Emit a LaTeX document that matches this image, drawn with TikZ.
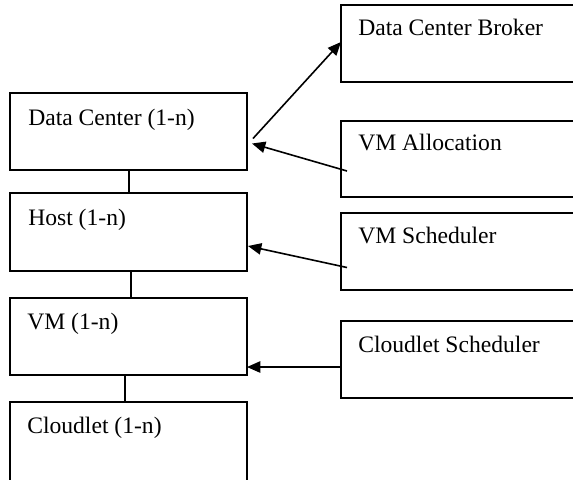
\documentclass[tikz,border=0pt]{standalone}
\usepackage{fontspec}
\setmainfont{Liberation Serif}
\usetikzlibrary{arrows.meta}
\begin{document}
\begin{tikzpicture}[x=0.75pt,y=-0.75pt,
  box/.style={draw,line width=0.9pt,inner sep=0pt,outer sep=0pt,minimum width=#1*0.75pt},
  lbl/.style={anchor=base west,inner sep=0pt,font=\fontsize{17.7pt}{20pt}\selectfont},
  link/.style={line width=0.9pt},
  arr/.style={line width=1.2pt,-{Triangle[length=10pt,width=8.5pt]}}]
\clip (0,0) rectangle (573,479);
% left column
\node[box=237,minimum height=77*0.75pt] (dc) at (128.5,131.5) {};
\node[box=237,minimum height=78*0.75pt] (host) at (128.5,232) {};
\node[box=237,minimum height=77*0.75pt] (vm) at (128.5,336.5) {};
\node[box=237,minimum height=80*0.75pt] (cl) at (128.5,442) {};
% right column
\node[box=239,minimum height=77*0.75pt] (dcb) at (460.5,43.5) {};
\node[box=239,minimum height=76*0.75pt] (vma) at (460.5,159) {};
\node[box=239,minimum height=77*0.75pt] (vms) at (460.5,251.5) {};
\node[box=239,minimum height=77*0.75pt] (cs) at (460.5,359.5) {};
% labels
\node[lbl] (tdc) at ([shift={(18,32)}]dc.north west) {Data Center (1-n)};
\node[lbl] (thost) at ([shift={(18,32)}]host.north west) {Host (1-n)};
\node[lbl] (tvm) at ([shift={(17,31)}]vm.north west) {VM (1-n)};
\node[lbl] (tcl) at ([shift={(17,31)}]cl.north west) {Cloudlet (1-n)};
\node[lbl] (tdcb) at ([shift={(17,30)}]dcb.north west) {Data Center Broker};
\node[lbl] (tvma) at ([shift={(17,29)}]vma.north west) {VM Allocation};
\node[lbl] (tvms) at ([shift={(17,30)}]vms.north west) {VM Scheduler};
\node[lbl] (tcs) at ([shift={(17,31)}]cs.north west) {Cloudlet Scheduler};
% vertical links
\draw[link] ([xshift=0.4pt]dc.south) -- ([xshift=0.4pt]host.north);
\draw[link] ([xshift=1.9pt]host.south) -- ([xshift=1.9pt]vm.north);
\draw[link] ([xshift=-2.6pt]vm.south) -- ([xshift=-2.6pt]cl.north);
% arrows
\coordinate (a1s) at ([shift={(6,7)}]dc.east);
\coordinate (a2s) at ([shift={(6,12)}]vma.west);
\coordinate (a2e) at ([shift={(5,12)}]dc.east);
\coordinate (a3s) at ([shift={(6,16)}]vms.west);
\coordinate (a3e) at ([shift={(1,14)}]host.east);
\coordinate (a4s) at ([shift={(0,7.5)}]cs.west);
\draw[arr] (a1s) -- ([shift={(0,-1.5)}]dcb.west);
\draw[arr] (a2s) -- (a2e);
\draw[arr] (a3s) -- (a3e);
\draw[arr] (a4s) -- (a4s -| vm.east);
\end{tikzpicture}
\end{document}
